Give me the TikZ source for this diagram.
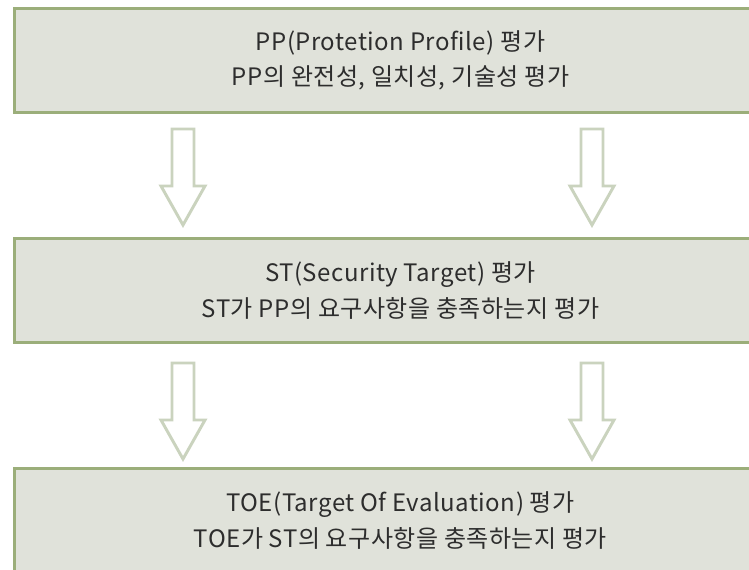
\documentclass[tikz,border=0pt]{standalone}
\usepackage{fontspec}
\setmainfont{Noto Sans CJK KR}[LetterSpace=2]
\definecolor{boxfill}{RGB}{224,226,218}
\definecolor{boxline}{RGB}{155,174,122}
\definecolor{arrowline}{RGB}{202,211,190}
\definecolor{textgray}{RGB}{45,45,45}
\tikzset{every picture/.style={line width=0.75pt}}
\tikzset{
  stagebox/.style={draw=boxline, fill=boxfill, line width=2.2pt, minimum width=579pt, minimum height=78pt,
    anchor=north west, inner sep=0pt, align=center, text=textgray,
    font=\fontsize{18}{26.5}\selectfont},
  blockarrow/.style={draw=arrowline, fill=white, line width=2.2pt, line join=miter}
}
\newcommand{\downblock}[2]{% top centre x, top y
  \draw [blockarrow] (#1-11,#2) -- (#1+11,#2) -- (#1+11,#2+57) -- (#1+22,#2+57) -- (#1,#2+96) -- (#1-22,#2+57) -- (#1-11,#2+57) -- cycle;
}
\begin{document}
\begin{tikzpicture}[x=0.75pt,y=0.75pt,yscale=-1,xscale=1]
        \useasboundingbox (0,0) rectangle (749,569);
        \clip (0,0) rectangle (749,569);
        % Stages
        \node [stagebox] (pp) at (13,7) {PP(Protetion Profile) 평가\\PP의 완전성, 일치성, 기술성 평가};
        \node [stagebox] (st) at (13,237) {ST(Security Target) 평가\\ST가 PP의 요구사항을 충족하는지 평가};
        \node [stagebox] (toe) at (13,467) {TOE(Target Of Evaluation) 평가\\TOE가 ST의 요구사항을 충족하는지 평가};
        % Arrows between stages
        \foreach \ax in {183,592} {
          \downblock{\ax}{129}
          \downblock{\ax}{363}
        }
\end{tikzpicture}
\end{document}
